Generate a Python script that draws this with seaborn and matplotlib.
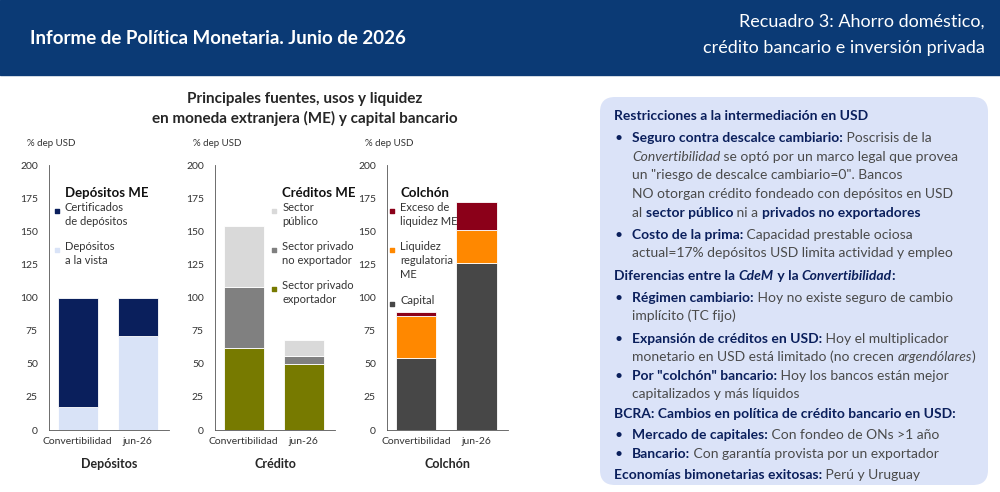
import matplotlib
matplotlib.use("Agg")
import matplotlib.pyplot as plt
import seaborn as sns
import pandas as pd
from matplotlib.patches import FancyBboxPatch, Rectangle

sns.set_theme(style="white")
plt.rcParams['font.family'] = ['Lato', 'DejaVu Sans']

categories = ["Convertibilidad", "jun-26"]
# Depósitos
dep_vista = [17, 71]
dep_cd = [83, 29]
# Crédito
cred_export = [62, 50]
cred_noexport = [46, 6]
cred_publico = [46, 12]
# Colchón
col_capital = [54, 126]
col_liquidez = [32, 25]
col_exceso = [3, 21]

NAVY = "#0a1f5c"
header_blue = "#0b3a75"

fig = plt.figure(figsize=(10, 4.92), dpi=100)
fig.patch.set_facecolor("white")
H, W = 492, 1000
def fx(px): return px / W
def fy(py): return 1 - py / H

fig.patches.append(Rectangle((0, fy(75)), 1, 75 / H, transform=fig.transFigure, color=header_blue, zorder=0))
fig.text(fx(30), fy(38), "Informe de Política Monetaria. Junio de 2026", color="white", fontsize=13.5,
         fontweight="bold", va="center")
fig.text(fx(985), fy(22), "Recuadro 3: Ahorro doméstico,", color="white", fontsize=13, ha="right", va="center")
fig.text(fx(985), fy(48), "crédito bancario e inversión privada", color="white", fontsize=13, ha="right", va="center")

fig.text(fx(305), fy(99), "Principales fuentes, usos y liquidez", fontsize=11, fontweight="bold", ha="center", va="center")
fig.text(fx(305), fy(118), "en moneda extranjera (ME) y capital bancario", fontsize=11, fontweight="bold", ha="center", va="center")

def stacked(ax, layers, colors):
    cum = [0, 0]
    for vals, c in zip(layers, colors):
        df = pd.DataFrame({"cat": categories, "v": vals, "b": cum})
        sns.barplot(data=df, x="cat", y="v", ax=ax, color=c, width=0.67, bottom=df["b"],
                    edgecolor="white", linewidth=0.6, saturation=1)
        cum = [a + b for a, b in zip(cum, vals)]
    sns.despine(ax=ax)

panels = [
    (49, 169, "Depósitos", [dep_vista, dep_cd], ["#d9e3f7", NAVY],
     "Depósitos ME", [("Certificados\nde depósitos", NAVY), ("Depósitos\na la vista", "#d9e3f7")], 0.13),
    (215, 335, "Crédito", [cred_export, cred_noexport, cred_publico], ["#777a00", "#808080", "#d9d9d9"],
     "Créditos ME", [("Sector\npúblico", "#d9d9d9"), ("Sector privado\nno exportador", "#808080"), ("Sector privado\nexportador", "#777a00")], 0.56),
    (387, 508, "Colchón", [col_capital, col_liquidez, col_exceso], ["#474747", "#ff8800", "#8b0019"],
     "Colchón", [("Exceso de\nliquidez ME", "#8b0019"), ("Liquidez\nregulatoria\nME", "#ff8800"), ("Capital", "#474747")], 0.11),
]
for x0, x1, xlabel, layers, colors, ltitle, items, lx in panels:
    ax = fig.add_axes([fx(x0), fy(430), fx(x1 - x0), (430 - 165) / H])
    stacked(ax, layers, colors)
    ax.set_ylim(0, 200)
    ax.set_xlim(-0.48, 1.52)
    ax.set_yticks(range(0, 201, 25))
    ax.set_ylabel("")
    ax.tick_params(axis="y", labelsize=7.5, colors="#333333", length=0, pad=8)
    ax.tick_params(axis="x", labelsize=7.5, colors="#333333", length=0, pad=5)
    for s in ["left", "bottom"]:
        ax.spines[s].set_color("#555555"); ax.spines[s].set_linewidth(0.6)
    ax.set_xlabel(xlabel, fontsize=9, fontweight="bold", labelpad=9)
    ax.text(-0.18, 1.07, "% dep USD", transform=ax.transAxes, fontsize=7, color="#333333")
    ax.text(lx, 0.895, ltitle, transform=ax.transAxes, fontsize=9.5, fontweight="bold", va="center", color="#111111")
    ypx = 211
    for lab, c in items:
        nl = lab.count("\n") + 1
        yax = (430 - ypx) / 265
        ax.scatter([lx - 0.065], [yax], s=12, marker="s", color=c, transform=ax.transAxes, clip_on=False)
        ax.text(lx, yax + 0.035, lab, transform=ax.transAxes, fontsize=8, color="#333333", va="top", linespacing=1.35)
        ypx += 15 * nl + 9

fig.patches.append(FancyBboxPatch((fx(600), fy(485)), fx(388), (485 - 97) / H, transform=fig.transFigure,
                                  boxstyle="round,pad=0,rounding_size=0.015", facecolor="#dbe3f8",
                                  edgecolor="none", zorder=0, mutation_aspect=2))
NT = "#0a1f5c"; GT = "#4a4a4a"
FS = 10
renderer = fig.canvas.get_renderer()

def line2(x, y, parts):
    cx = x
    for s, style in parts:
        kw = dict(fontsize=FS)
        if style == "b":
            kw.update(fontweight="bold", color=NT)
        elif style == "bi":
            kw.update(fontweight="bold", fontstyle="italic", color=NT)
        elif style == "i":
            kw.update(fontstyle="italic", color=GT)
        else:
            kw.update(color=GT)
        t = fig.text(fx(cx), fy(y), s, va="baseline", **kw)
        bb = t.get_window_extent(renderer)
        cx += bb.width

BX, TX = 614, 632
rows = [
    (BX, 120, [("Restricciones a la intermediación en USD", "b")], False),
    (TX, 142, [("Seguro contra descalce cambiario:", "b"), (" Poscrisis de la", "")], True),
    (TX, 161, [("Convertibilidad", "i"), (" se optó por un marco legal que provea", "")], False),
    (TX, 179, [('un "riesgo de descalce cambiario=0". Bancos', "")], False),
    (TX, 198, [("NO otorgan crédito fondeado con depósitos en USD", "")], False),
    (TX, 217, [("al ", ""), ("sector público", "b"), (" ni a ", ""), ("privados no exportadores", "b")], False),
    (TX, 239, [("Costo de la prima:", "b"), (" Capacidad prestable ociosa", "")], True),
    (TX, 257, [("actual=17% depósitos USD limita actividad y empleo", "")], False),
    (BX, 280, [("Diferencias entre la ", "b"), ("CdeM", "bi"), (" y la ", "b"), ("Convertibilidad", "bi"), (":", "b")], False),
    (TX, 302, [("Régimen cambiario:", "b"), (" Hoy no existe seguro de cambio", "")], True),
    (TX, 320, [("implícito (TC fijo)", "")], False),
    (TX, 343, [("Expansión de créditos en USD:", "b"), (" Hoy el multiplicador", "")], True),
    (TX, 361, [("monetario en USD está limitado (no crecen ", ""), ("argendólares", "i"), (")", "")], False),
    (TX, 380, [('Por "colchón" bancario:', "b"), (" Hoy los bancos están mejor", "")], True),
    (TX, 398, [("capitalizados y más líquidos", "")], False),
    (BX, 418, [("BCRA: Cambios en política de crédito bancario en USD:", "b")], False),
    (TX, 439, [("Mercado de capitales:", "b"), (" Con fondeo de ONs >1 año", "")], True),
    (TX, 458, [("Bancario:", "b"), (" Con garantía provista por un exportador", "")], True),
    (BX, 479, [("Economías bimonetarias exitosas:", "b"), (" Perú y Uruguay", "")], False),
]
for x, y, parts, bullet in rows:
    line2(x, y, parts)
    if bullet:
        fig.text(fx(614), fy(y), "•", fontsize=FS, color=NT, va="baseline")

fig.savefig("out.png", dpi=100, facecolor="white")
